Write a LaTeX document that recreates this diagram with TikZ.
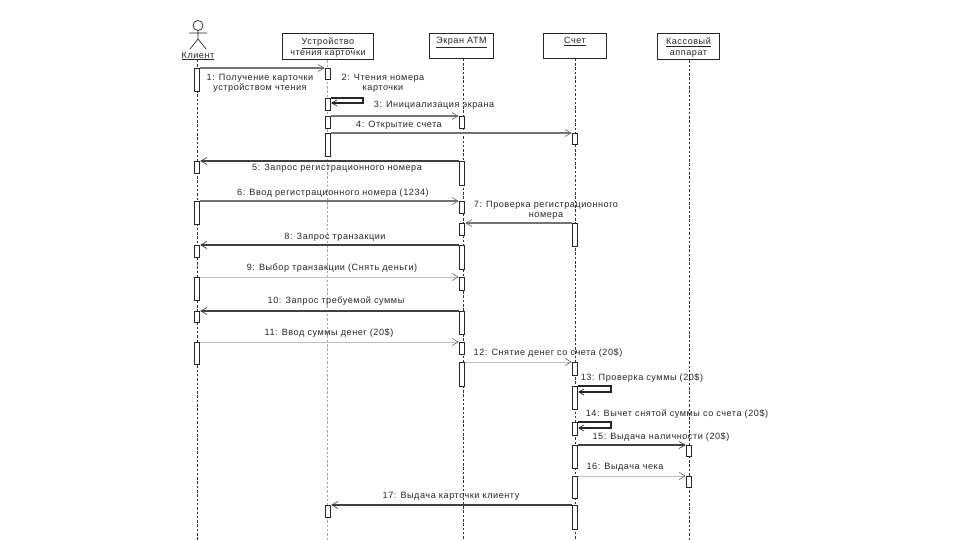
\documentclass[tikz,border=0pt]{standalone}
\usepackage{fontspec}
\setmainfont[LetterSpace=6]{Liberation Sans}
\usetikzlibrary{arrows.meta}
\definecolor{txt}{gray}{0.15}
\tikzset{
  head/.style={draw=black!85,line width=0.9pt,fill=white,inner sep=0pt,anchor=north west,align=center,font=\fontsize{9.1}{11}\selectfont,text=txt},
  actbox/.style={draw=black!85,line width=0.9pt,fill=white,inner sep=0pt,minimum width=5.5pt},
  life/.style={dash pattern=on 2.5pt off 1.8pt,line width=0.8pt,draw=black!80},
  lifepale/.style={life,draw=black!35},
  msg/.style={line width=1.1pt,-{Straight Barb[length=6pt,width=7pt,line width=.7pt]}},
  msgdark/.style={msg,draw=black!75},
  msgmid/.style={msg,draw=black!55},
  msgpale/.style={msg,draw=black!25,line width=0.7pt,-{Straight Barb[length=6pt,width=7pt,line width=.6pt,black!60]}},
  self/.style={line width=1.1pt,draw=black!85,-{Straight Barb[length=5pt,width=6pt,line width=.7pt]}},
  lbl/.style={font=\fontsize{9.1}{10}\selectfont,text=txt,inner sep=0pt,align=center,yshift=-1pt}
}
\newcommand{\actv}[4]{\node[actbox,minimum height=#4pt-#3pt,anchor=north] (#1) at (#2,#3) {};}
\newcommand{\hl}[1]{\rule{0pt}{11.5pt}\underline{#1}}
\begin{document}
\begin{tikzpicture}[x=1pt,y=-1pt]
\useasboundingbox[fill=white] (0,0) rectangle (960,540);
% actor
\node[draw=black!85,line width=0.7pt,circle,minimum size=10pt,inner sep=0pt] (ahead) at (198,25.5) {};
\coordinate (ahip) at (198,39);
\coordinate (aarml) at (189,33);
\coordinate (aarmr) at (207,33);
\coordinate (alegl) at (190,49);
\coordinate (alegr) at (206,49);
\draw[black!85,line width=0.7pt] (ahead.south) -- (ahip) (aarml) -- (aarmr) (alegl) -- (ahip) -- (alegr);
\node[lbl] (client) at (198,55) {\underline{Клиент}};
% headers
\node[head,minimum width=91pt,minimum height=25pt] (reader) at (282,33) {\hl{Устройство}\\\underline{чтения карточки}};
\node[head,minimum width=64pt,minimum height=25pt,anchor=north west] (atm) at (429,33) {\raisebox{11pt}{\underline{Экран ATM}}};
\node[head,minimum width=63pt,minimum height=25pt] (acct) at (543,33) {\raisebox{11pt}{\underline{Счет}}};
\node[head,minimum width=62pt,minimum height=25pt] (cash) at (657,33) {\hl{Кассовый}\\\underline{аппарат}};
% lifelines
\coordinate (e1) at (197,540);
\coordinate (e2) at (327,540);
\coordinate (e3) at (463,540);
\coordinate (e4) at (575,540);
\coordinate (e5) at (689,540);
\draw[life] (197,60) -- (e1);
\draw[lifepale] (reader.south -| e2) -- (e2);
\draw[life] (atm.south -| e3) -- (e3);
\draw[life] (acct.south -| e4) -- (e4);
\draw[life] (cash.south -| e5) -- (e5);
% activations client
\actv{c1}{197}{68}{91}
\actv{c5}{197}{161}{173}
\actv{c6}{197}{201}{224}
\actv{c8}{197}{245}{257}
\actv{c9}{197}{277}{300}
\actv{c10}{197}{311}{322}
\actv{c11}{197}{342}{364}
% reader
\actv{r1}{328}{68}{79}
\actv{r2}{328}{98}{110}
\actv{r3}{328}{116}{128}
\actv{r4}{328}{133}{156}
\actv{r17}{328}{505}{517}
% atm
\actv{a3}{462}{116}{128}
\actv{a5}{462}{161}{185}
\actv{a6}{462}{201}{213}
\actv{a7}{462}{223}{235}
\actv{a8}{462}{245}{269}
\actv{a9}{462}{277}{290}
\actv{a10}{462}{311}{334}
\actv{a11}{462}{342}{354}
\actv{a12}{462}{362}{386}
% account
\actv{s4}{575}{133}{144}
\actv{s7}{575}{223}{246}
\actv{s12}{575}{362}{375}
\actv{s13}{575}{386}{409}
\actv{s14}{575}{422}{435}
\actv{s15}{575}{445}{468}
\actv{s16}{575}{476}{498}
\actv{s17}{575}{505}{529}
% cash
\actv{k15}{689}{445}{456}
\actv{k16}{689}{476}{487}
% messages
\draw[msgmid] (c1.north east) -- (r1.north west);
\coordinate (t2a) at (363,98);
\coordinate (t2b) at (363,103);
\draw[self] (r2.north east) -- (t2a) -- (t2b) -- (r2.east |- t2b);
\draw[msgmid] (r3.north east) -- (a3.north west);
\draw[msgmid] (r4.north east) -- (s4.north west);
\draw[msgdark] (a5.north west) -- (c5.north east);
\draw[msgmid] (c6.north east) -- (a6.north west);
\draw[msgmid] (s7.north west) -- (a7.north east);
\draw[msgdark] (a8.north west) -- (c8.north east);
\draw[msgpale] (c9.north east) -- (a9.north west);
\draw[msgdark] (a10.north west) -- (c10.north east);
\draw[msgpale] (c11.north east) -- (a11.north west);
\draw[msgpale] (a12.north east) -- (s12.north west);
\coordinate (t13a) at (611,386);
\coordinate (t13b) at (611,392);
\draw[self] (s13.north east) -- (t13a) -- (t13b) -- (s13.east |- t13b);
\coordinate (t14a) at (611,422);
\coordinate (t14b) at (611,428);
\draw[self] (s14.north east) -- (t14a) -- (t14b) -- (s14.east |- t14b);
\draw[msgdark] (s15.north east) -- (k15.north west);
\draw[msgpale] (s16.north east) -- (k16.north west);
\draw[msgdark] (s17.north west) -- (r17.north east);
% labels
\node[lbl] (l1) at (260,82) {1: Получение карточки\\устройством чтения};
\node[lbl] (l2) at (383,82) {2: Чтения номера\\карточки};
\node[lbl] (l3) at (434,104.5) {3: Инициализация экрана};
\node[lbl] (l4) at (399,124) {4: Открытие счета};
\node[lbl] (l5) at (337,167.5) {5: Запрос регистрационного номера};
\node[lbl] (l6) at (333,192) {6: Ввод регистрационного номера (1234)};
\node[lbl] (l7) at (546,209) {7: Проверка регистрационного\\номера};
\node[lbl] (l8) at (335,236) {8: Запрос транзакции};
\node[lbl] (l9) at (332,267.5) {9: Выбор транзакции (Снять деньги)};
\node[lbl] (l10) at (336,300.5) {10: Запрос требуемой суммы};
\node[lbl] (l11) at (329,332) {11: Ввод суммы денег (20\$)};
\node[lbl] (l12) at (548,352) {12: Снятие денег со счета (20\$)};
\node[lbl] (l13) at (642,377) {13: Проверка суммы (20\$)};
\node[lbl] (l14) at (677,413) {14: Вычет снятой суммы со счета (20\$)};
\node[lbl] (l15) at (661,436) {15: Выдача наличности (20\$)};
\node[lbl] (l16) at (625,466) {16: Выдача чека};
\node[lbl] (l17) at (451,495) {17: Выдача карточки клиенту};
\end{tikzpicture}
\end{document}
